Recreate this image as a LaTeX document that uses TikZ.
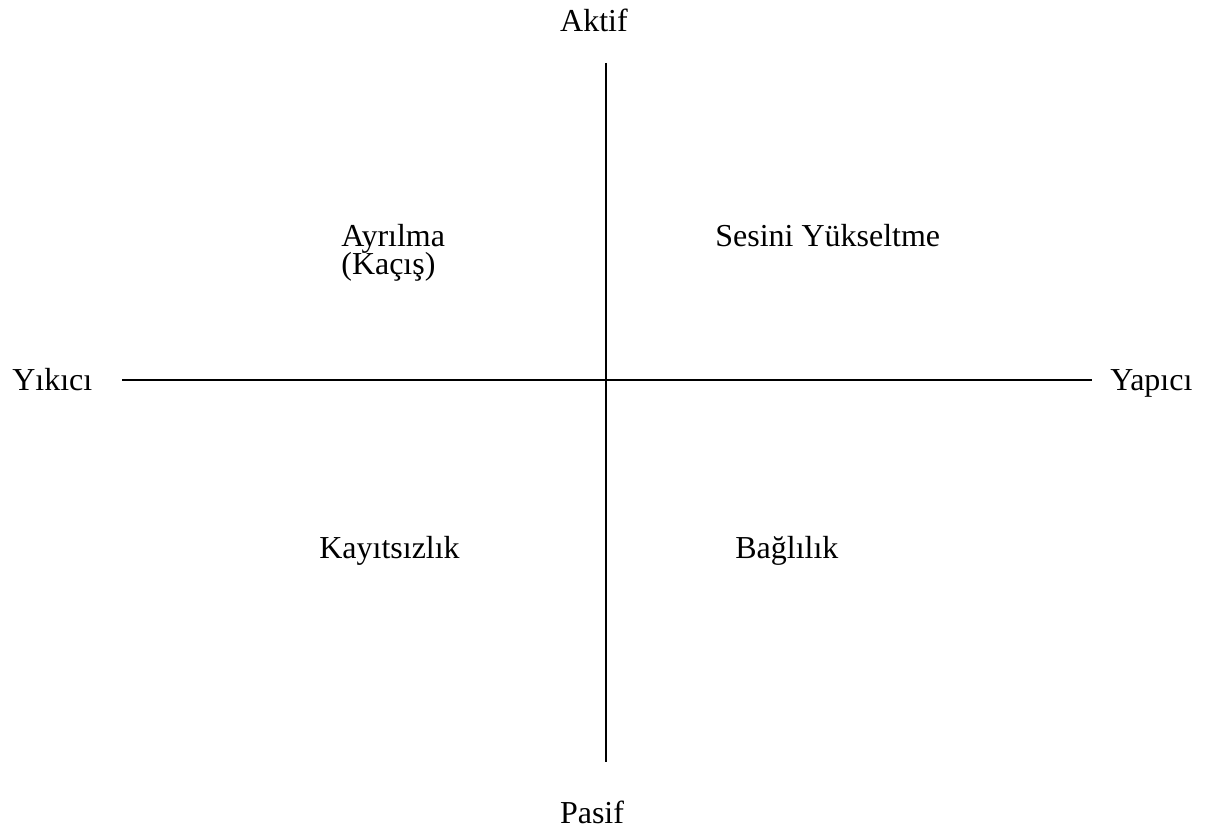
\documentclass[tikz,border=0pt]{standalone}
\usepackage{fontspec}
\setmainfont{Liberation Serif}
\usepackage{tikz}
\usetikzlibrary{calc}
\tikzset{
  etiket/.style={draw=none, inner sep=0pt, font=\fontsize{18.2}{22}\selectfont, anchor=base west},
  eksen/.style={line width=1.1pt}
}

\begin{document}
\begin{tikzpicture}
        \useasboundingbox (0,0) rectangle (24.18,16.6);
        % eksen uclari
        \coordinate (ust) at (12.12,15.34);
        \coordinate (alt) at (12.12,1.36);
        \coordinate (sol) at (2.44,9.0);
        \coordinate (sag) at (21.84,9.0);
        % eksenler
        \draw[eksen] (ust) -- (alt);
        \draw[eksen] (sol) -- (sag);
        % eksen etiketleri
        \node[etiket, anchor=base] (aktif) at (11.88,15.96) {Aktif};
        \node[etiket, anchor=base] (pasif) at (11.84,0.12) {Pasif};
        \node[etiket] (yikici) at (0.24,8.78) {Yıkıcı};
        \node[etiket] (yapici) at (22.2,8.78) {Yapıcı};
        % dort bolge
        \node[etiket] (ayrilma) at (6.82,11.66) {Ayrılma};
        \node[etiket] (kacis) at (6.82,11.1) {(Kaçış)};
        \node[etiket] (ses) at (14.3,11.66) {Sesini Yükseltme};
        \node[etiket] (kayitsiz) at (6.38,5.42) {Kayıtsızlık};
        \node[etiket] (baglilik) at (14.7,5.42) {Bağlılık};
    \end{tikzpicture}
\end{document}
